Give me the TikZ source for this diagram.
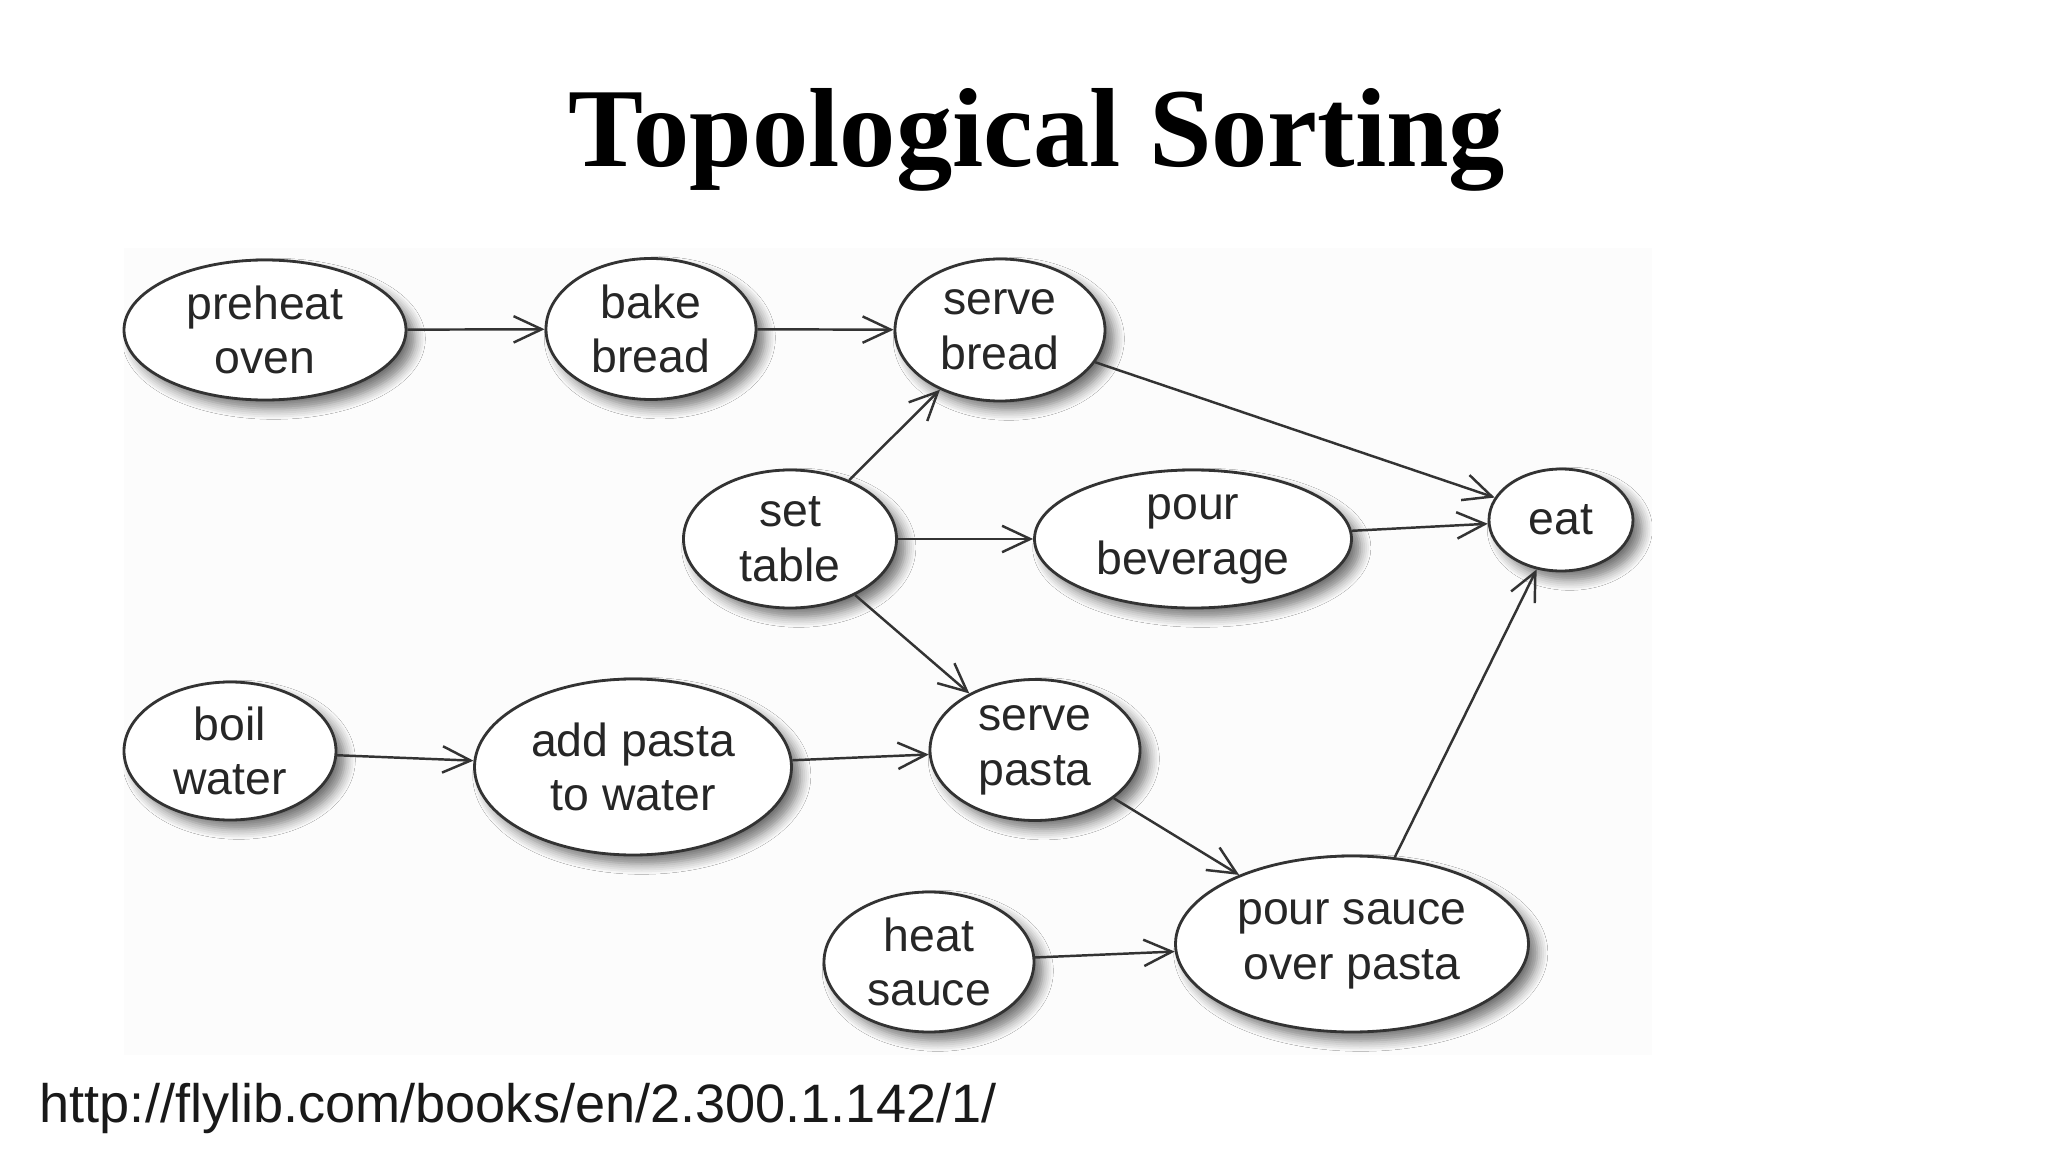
\documentclass[tikz,border=0pt]{standalone}
\usepackage{fontspec}
\setmainfont{Liberation Sans}
\newfontfamily\titlefont{Liberation Serif}
\usetikzlibrary{shapes.geometric,arrows.meta,shadows.blur}

\begin{document}
\begin{tikzpicture}[
		task/.style={draw=black!80, line width=0.8pt, ellipse, fill=white, inner sep=0pt, align=center, text=black!85, font=\fontsize{13.2pt}{15.6pt}\selectfont, blur shadow={shadow xshift=2.5pt, shadow yshift=-2.5pt, shadow opacity=55, shadow blur steps=6, shadow blur radius=3pt}},
		arr/.style={color=black!80, line width=0.7pt, -{Straight Barb[length=8pt,width=7.5pt]}}
	]
		\useasboundingbox (0,0) rectangle (20.48,-11.52);
		\fill[black!1] (1.24,-2.48) rectangle (16.52,-10.55);
		\node[anchor=base, font=\titlefont\bfseries\fontsize{32pt}{36pt}\selectfont] (title) at (10.37,-1.67) {Topological Sorting};
		\node[anchor=base west, inner sep=0pt, text=black!90, font=\fontsize{15.4pt}{18pt}\selectfont] (url) at (0.39,-11.22) {http://flylib.com/books/en/2.300.1.142/1/};
		\node[task, minimum width=2.82cm, minimum height=1.40cm] (preheat) at (2.65,-3.30) {preheat\\oven};
		\node[task, minimum width=2.10cm, minimum height=1.41cm] (bake) at (6.51,-3.29) {bake\\bread};
		\node[task, minimum width=2.10cm, minimum height=1.42cm] (servebread) at (10.00,-3.30) {serve\\bread};
		\node[task, minimum width=2.13cm, minimum height=1.38cm] (settable) at (7.90,-5.39) {set\\table};
		\node[task, minimum width=3.17cm, minimum height=1.38cm] (beverage) at (11.93,-5.39) {pour\\beverage};
		\node[task, minimum width=1.44cm, minimum height=1.02cm] (eat) at (15.61,-5.20) {eat};
		\node[task, minimum width=2.12cm, minimum height=1.38cm] (boil) at (2.30,-7.51) {boil\\water};
		\node[task, minimum width=3.17cm, minimum height=1.76cm] (addpasta) at (6.33,-7.67) {add pasta\\to water};
		\node[task, minimum width=2.10cm, minimum height=1.41cm] (servepasta) at (10.35,-7.50) {serve\\pasta};
		\node[task, minimum width=2.10cm, minimum height=1.40cm] (heatsauce) at (9.29,-9.62) {heat\\sauce};
		\node[task, minimum width=3.53cm, minimum height=1.76cm] (poursauce) at (13.52,-9.44) {pour sauce\\over pasta};
		\path[arr]
		(preheat) edge (bake)
		(bake) edge (servebread)
		(servebread) edge (eat)
		(settable) edge (servebread) edge (beverage) edge (servepasta)
		(beverage) edge (eat)
		(boil) edge (addpasta)
		(addpasta) edge (servepasta)
		(servepasta) edge (poursauce)
		(heatsauce) edge (poursauce)
		(poursauce) edge (eat);
\end{tikzpicture}
\end{document}
